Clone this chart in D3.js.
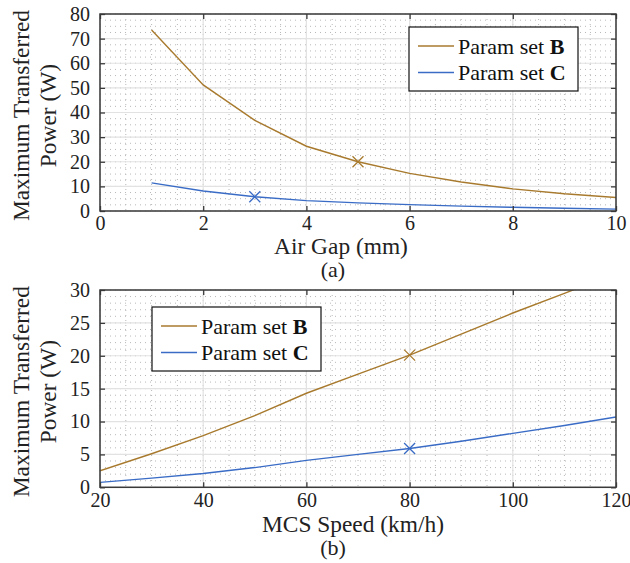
<!DOCTYPE html>
<html>
<head>
<meta charset="utf-8">
<script src="https://cdn.jsdelivr.net/npm/d3@7"></script>
<style>
  body { margin: 0; background: #fff; }
  svg { display: block; font-family: "Liberation Serif", "Times New Roman", serif; }
</style>
</head>
<body>
<svg width="630" height="563"></svg>
<script>
// panel (a): power vs air gap
const gapMm = [1, 2, 3, 4, 5, 6, 7, 8, 9, 10];
const gapB = [73.5, 51.2, 36.8, 26.3, 20.0, 15.3, 11.8, 9.0, 7.0, 5.5];
const gapC = [11.4, 8.1, 5.8, 4.2, 3.3, 2.6, 2.0, 1.5, 1.1, 0.75];
const gapXTicks = [0, 2, 4, 6, 8, 10];
const gapYTicks = [0, 10, 20, 30, 40, 50, 60, 70, 80];

// panel (b): power vs MCS speed
const speedKmh = [20, 30, 40, 50, 60, 70, 80, 90, 100, 110, 120];
const speedB = [2.5, 5.1, 7.85, 10.9, 14.3, 17.2, 20.1, 23.3, 26.5, 29.5, 32.5];
const speedC = [0.75, 1.4, 2.1, 3.0, 4.1, 5.0, 5.9, 7.0, 8.2, 9.4, 10.7];
const speedXTicks = [20, 40, 60, 80, 100, 120];
const speedYTicks = [0, 5, 10, 15, 20, 25, 30];

const seriesNames = ["B", "C"];
const colB = "#a87a2e", colC = "#3a6cc6";

var svg = d3.select("svg");

function panel(o) {
  var x = d3.scaleLinear().domain(o.xdom).range([100, 616]),
      y = d3.scaleLinear().domain(o.ydom).range([o.bottom, o.top]);
  var g = svg.append("g");

  g.append("clipPath").attr("id", "clip" + o.id)
    .append("rect").attr("x", 100).attr("y", o.top).attr("width", 516).attr("height", o.bottom - o.top);

  // minor dotted grid
  var mx = d3.range(o.xdom[0], o.xdom[1] + 1e-9, o.xminor),
      my = d3.range(o.ydom[0], o.ydom[1] + 1e-9, o.yminor);
  g.selectAll(".mx").data(mx).enter().append("line")
    .attr("x1", d => x(d)).attr("x2", d => x(d)).attr("y1", o.top).attr("y2", o.bottom)
    .attr("stroke", "#b8b8b8").attr("stroke-width", 1).attr("stroke-dasharray", "1,4");
  g.selectAll(".my").data(my).enter().append("line")
    .attr("y1", d => y(d)).attr("y2", d => y(d)).attr("x1", 100).attr("x2", 616)
    .attr("stroke", "#b8b8b8").attr("stroke-width", 1).attr("stroke-dasharray", "1,4");

  // major grid
  g.selectAll(".gx").data(o.xticks).enter().append("line")
    .attr("x1", d => x(d)).attr("x2", d => x(d)).attr("y1", o.top).attr("y2", o.bottom)
    .attr("stroke", "#e2e2e2").attr("stroke-width", 1.2);
  g.selectAll(".gy").data(o.yticks).enter().append("line")
    .attr("y1", d => y(d)).attr("y2", d => y(d)).attr("x1", 100).attr("x2", 616)
    .attr("stroke", "#e2e2e2").attr("stroke-width", 1.2);

  // series lines
  var line = d3.line().x(d => x(d[0])).y(d => y(d[1]));
  [[o.b, colB, o.markB], [o.c, colC, o.markC]].forEach(function (s) {
    var pts = o.xs.map((v, i) => [v, s[0][i]]);
    g.append("path").datum(pts).attr("d", line).attr("fill", "none")
      .attr("stroke", s[1]).attr("stroke-width", 1.4).attr("clip-path", "url(#clip" + o.id + ")");
    var p = pts[s[2]], cx = x(p[0]), cy = y(p[1]), r = 5.5;
    g.append("path").attr("d", "M" + (cx - r) + "," + (cy - r) + "L" + (cx + r) + "," + (cy + r) +
        "M" + (cx - r) + "," + (cy + r) + "L" + (cx + r) + "," + (cy - r))
      .attr("stroke", s[1]).attr("stroke-width", 1.3);
  });

  // axes, ticks inside on all four sides
  var fmt = d3.format("d");
  var ax = [
    [d3.axisBottom(x).tickValues(o.xticks).tickFormat(fmt).tickSizeInner(-5).tickSizeOuter(0).tickPadding(o.xpad), "translate(0," + o.bottom + ")"],
    [d3.axisTop(x).tickValues(o.xticks).tickFormat("").tickSizeInner(-5).tickSizeOuter(0), "translate(0," + o.top + ")"],
    [d3.axisLeft(y).tickValues(o.yticks).tickFormat(fmt).tickSizeInner(-5).tickSizeOuter(0).tickPadding(10), "translate(100,0)"],
    [d3.axisRight(y).tickValues(o.yticks).tickFormat("").tickSizeInner(-5).tickSizeOuter(0), "translate(616,0)"]
  ];
  ax.forEach(function (a) {
    var ga = g.append("g").attr("transform", a[1]).call(a[0]);
    ga.select(".domain").remove();
    ga.selectAll("line").attr("stroke", "#3a3a3a").attr("stroke-width", 1.3);
    ga.selectAll("text").attr("font-family", "Liberation Serif").attr("font-size", 20).attr("fill", "#222");
  });
  g.append("rect").attr("x", 100).attr("y", o.top).attr("width", 516).attr("height", o.bottom - o.top)
    .attr("fill", "none").attr("stroke", "#3a3a3a").attr("stroke-width", 1.5);

  // labels
  g.append("text").attr("x", o.xlabX).attr("y", o.bottom + o.xlabDy).attr("text-anchor", "middle")
    .attr("font-size", 23.4).attr("fill", "#222").text(o.xlabel);
  g.append("text").attr("x", o.capX).attr("y", o.bottom + o.capDy).attr("text-anchor", "middle")
    .attr("font-size", 22).attr("fill", "#222").text(o.caption);
  var yl = g.append("text").attr("transform", "translate(28.5," + ((o.top + o.bottom) / 2 + 3) + ") rotate(-90)")
    .attr("text-anchor", "middle").attr("font-size", 23.4).attr("fill", "#222");
  yl.append("tspan").attr("x", 0).attr("y", 0).text("Maximum Transferred");
  yl.append("tspan").attr("x", 0).attr("y", 27.5).text("Power (W)");

  // legend
  var lg = g.append("g").attr("transform", "translate(" + o.leg[0] + "," + o.leg[1] + ")");
  lg.append("rect").attr("width", 169).attr("height", 64).attr("fill", "#fff")
    .attr("stroke", "#111").attr("stroke-width", 1.2);
  seriesNames.forEach(function (n, i) {
    var yy = 19 + i * 26.5;
    lg.append("line").attr("x1", 9).attr("x2", 45).attr("y1", yy).attr("y2", yy)
      .attr("stroke", i ? colC : colB).attr("stroke-width", 1.4);
    var t = lg.append("text").attr("x", 49).attr("y", yy + 7.5).attr("font-size", 22).attr("fill", "#111");
    t.append("tspan").text("Param set ");
    t.append("tspan").attr("font-weight", "bold").text(n);
  });
}

panel({ id: "a", top: 14, bottom: 211, xdom: [0, 10], ydom: [0, 80], xminor: 0.5, yminor: 2.5,
  xticks: gapXTicks, yticks: gapYTicks, xs: gapMm, b: gapB, c: gapC, markB: 4, markC: 2, xpad: 5,
  xlabel: "Air Gap (mm)", xlabX: 341, xlabDy: 43, caption: "(a)", capX: 333, capDy: 66, leg: [409, 27] });

panel({ id: "b", top: 290, bottom: 487.3, xdom: [20, 120], ydom: [0, 30], xminor: 5, yminor: 1,
  xticks: speedXTicks, yticks: speedYTicks, xs: speedKmh, b: speedB, c: speedC, markB: 6, markC: 6, xpad: 6,
  xlabel: "MCS Speed (km/h)", xlabX: 353, xlabDy: 44.5, caption: "(b)", capX: 333, capDy: 67.5, leg: [152, 307] });
</script>
</body>
</html>
